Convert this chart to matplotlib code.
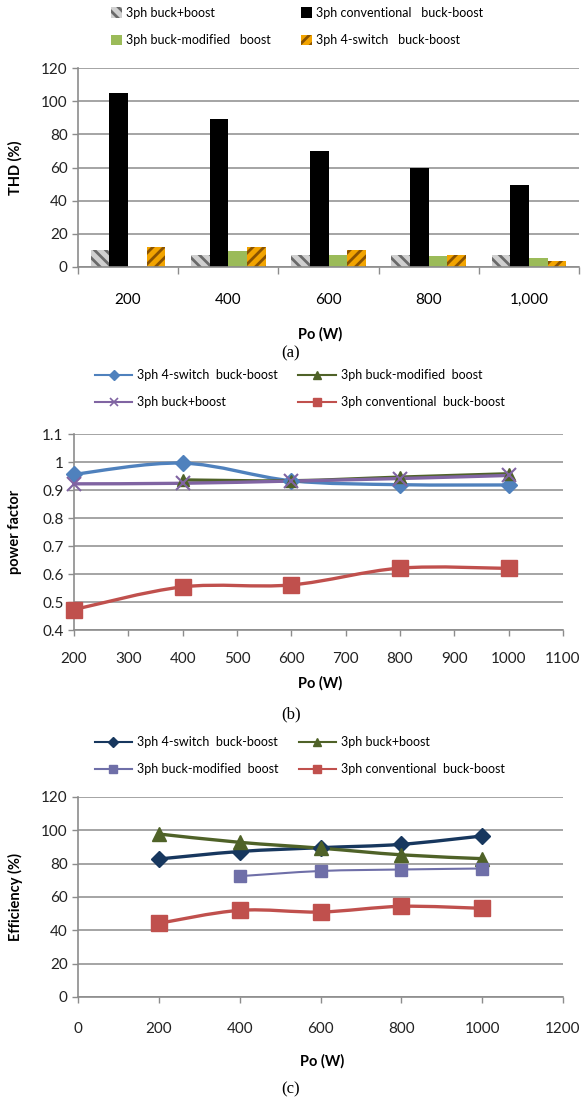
import matplotlib
matplotlib.use("Agg")
import matplotlib.pyplot as plt
import numpy as np
from matplotlib.path import Path
from matplotlib.patches import PathPatch
from matplotlib.lines import Line2D

plt.rcParams["font.family"] = ["Lato", "DejaVu Sans"]
plt.rcParams["hatch.linewidth"] = 2.0

# ---- (a) THD bar data ----
thd_cats = ["200", "400", "600", "800", "1,000"]
thd_buck_boost = [10, 7.5, 7.5, 7.5, 7.5]
thd_conventional = [105, 89.5, 70, 60, 49.5]
thd_modified = [0, 9.5, 7, 6.5, 5.5]
thd_4switch = [12, 12, 10, 7.5, 3.5]

# ---- (b) power factor data ----
pf_x = [200, 400, 600, 800, 1000]
pf_4switch = [0.956, 0.996, 0.933, 0.919, 0.918]
pf_modified_x = [400, 600, 800, 1000]
pf_modified = [0.936, 0.933, 0.946, 0.958]
pf_buck_boost = [0.922, 0.924, 0.932, 0.941, 0.952]
pf_conventional = [0.473, 0.554, 0.561, 0.621, 0.620]

# ---- (c) efficiency data ----
eff_x = [200, 400, 600, 800, 1000]
eff_4switch = [82.8, 87.3, 89.6, 91.6, 96.6]
eff_buck_boost = [97.8, 92.8, 89.3, 85.3, 83.0]
eff_modified_x = [400, 600, 800, 1000]
eff_modified = [72.5, 75.6, 76.5, 77.1]
eff_conventional = [44.2, 52.0, 51.0, 54.4, 53.2]

W, H = 582, 1101
fig = plt.figure(figsize=(W / 100, H / 100), dpi=100)

GRID = "#8c8c8c"
TICK_FS = 11
LEG_FS = 9
LAB_FS = 10.5
CAP_FS = 12


def axes_px(left, top, right, bottom):
    return fig.add_axes([left / W, 1 - bottom / H, (right - left) / W, (bottom - top) / H])


def style_axes(ax):
    for s in ["top", "right"]:
        ax.spines[s].set_visible(False)
    for s in ["left", "bottom"]:
        ax.spines[s].set_color(GRID)
        ax.spines[s].set_linewidth(1.2)
    ax.yaxis.grid(True, color=GRID, linewidth=1.1)
    ax.set_axisbelow(True)
    ax.tick_params(colors=GRID, labelcolor="#222222", labelsize=TICK_FS, length=4, width=1)


def smooth_line(ax, xs, ys, color, lw):
    # excel-like smoothed line: catmull-rom segments drawn as cubic beziers
    pts = np.column_stack([xs, ys]).astype(float)
    verts = [pts[0]]
    codes = [Path.MOVETO]
    n = len(pts)
    for i in range(n - 1):
        p0 = pts[max(i - 1, 0)]
        p1 = pts[i]
        p2 = pts[i + 1]
        p3 = pts[min(i + 2, n - 1)]
        c1 = p1 + (p2 - p0) / 6.0
        c2 = p2 - (p3 - p1) / 6.0
        verts += [c1, c2, p2]
        codes += [Path.CURVE4] * 3
    ax.add_patch(PathPatch(Path(verts, codes), fill=False, edgecolor=color,
                           linewidth=lw, capstyle="round", joinstyle="round", zorder=3))


# ================= (a) =================
axa = axes_px(78, 68, 579, 267)
style_axes(axa)
xa = np.arange(len(thd_cats))
bw = 0.186
series_a = [
    (thd_buck_boost, "3ph buck+boost", dict(facecolor="#d0d0d0", edgecolor="#6a6a6a", hatch="\\\\\\")),
    (thd_conventional, "3ph conventional   buck-boost", dict(facecolor="black", edgecolor="black")),
    (thd_modified, "3ph buck-modified   boost", dict(facecolor="#9bbb59", edgecolor="#9bbb59")),
    (thd_4switch, "3ph 4-switch   buck-boost", dict(facecolor="#f2a400", edgecolor="#8a5200", hatch="///")),
]
bars = []
for i, (vals, lab, st) in enumerate(series_a):
    b = axa.bar(xa + (i - 1.5) * bw, vals, bw, label=lab, linewidth=0, zorder=2, **st)
    bars.append(b)
axa.set_ylim(0, 120)
axa.set_yticks(range(0, 121, 20))
axa.set_xlim(-0.5, len(thd_cats) - 0.5)
axa.set_xticks(np.arange(-0.5, len(thd_cats), 1.0))
axa.set_xticklabels([])
axa.set_xticks(xa, minor=True)
axa.set_xticklabels(thd_cats, minor=True)
axa.tick_params(axis="x", which="minor", length=0, pad=19, labelsize=TICK_FS)
axa.tick_params(axis="x", which="major", length=5)
fig.legend([bars[0], bars[2], bars[1], bars[3]],
           [series_a[0][1], series_a[2][1], series_a[1][1], series_a[3][1]],
           ncol=2, loc="center", bbox_to_anchor=(0.51, 1 - 26.5 / H), frameon=False,
           fontsize=LEG_FS, handlelength=0.9, handleheight=0.9, handletextpad=0.3,
           columnspacing=2.4, labelspacing=1.25)
fig.text(15 / W, 1 - 168 / H, "THD (%)", rotation=90, ha="center", va="center",
         fontsize=LAB_FS, fontweight="bold")
fig.text(320 / W, 1 - 334 / H, "Po (W)", ha="center", va="center", fontsize=LAB_FS, fontweight="bold")
fig.text(291 / W, 1 - 353 / H, "(a)", ha="center", va="center", fontsize=CAP_FS,
         family="Liberation Serif")

# ================= (b) =================
axb = axes_px(74, 434, 563, 630)
style_axes(axb)
c_blue, c_olive, c_purple, c_red = "#4f81bd", "#4f6228", "#8064a2", "#c0504d"
smooth_line(axb, pf_x, pf_4switch, c_blue, 2.4)
smooth_line(axb, pf_modified_x, pf_modified, c_olive, 2.4)
smooth_line(axb, pf_x, pf_buck_boost, c_purple, 2.4)
smooth_line(axb, pf_x, pf_conventional, c_red, 2.4)
axb.plot(pf_x, pf_4switch, ls="none", marker="D", ms=8, color=c_blue, zorder=4, clip_on=False)
axb.plot(pf_modified_x, pf_modified, ls="none", marker="^", ms=9, color=c_olive, zorder=4, clip_on=False)
axb.plot(pf_x, pf_buck_boost, ls="none", marker="x", ms=10, mew=1.5, color=c_purple, zorder=4, clip_on=False)
axb.plot(pf_x, pf_conventional, ls="none", marker="s", ms=11, color=c_red, zorder=4, clip_on=False)
axb.set_xlim(200, 1100)
axb.set_xticks(range(200, 1101, 100))
axb.set_ylim(0.4, 1.1)
pf_ticks = [0.4, 0.5, 0.6, 0.7, 0.8, 0.9, 1.0, 1.1]
axb.set_yticks(pf_ticks)
axb.set_yticklabels(["0.4", "0.5", "0.6", "0.7", "0.8", "0.9", "1", "1.1"])
axb.tick_params(axis="x", pad=12)
hb = [Line2D([], [], color=c_blue, marker="D", ms=5, lw=1.5),
      Line2D([], [], color=c_purple, marker="x", ms=6, mew=1.2, lw=1.5),
      Line2D([], [], color=c_olive, marker="^", ms=6, lw=1.5),
      Line2D([], [], color=c_red, marker="s", ms=6, lw=1.5)]
fig.legend(hb, ["3ph 4-switch  buck-boost", "3ph buck+boost",
                "3ph buck-modified  boost", "3ph conventional  buck-boost"],
           ncol=2, loc="center", bbox_to_anchor=(0.515, 1 - 388.5 / H), frameon=False,
           fontsize=LEG_FS, handlelength=3.0, handletextpad=0.4,
           columnspacing=1.6, labelspacing=1.2)
fig.text(15 / W, 1 - 532 / H, "power factor", rotation=90, ha="center", va="center",
         fontsize=LAB_FS, fontweight="bold")
fig.text(320 / W, 1 - 683 / H, "Po (W)", ha="center", va="center", fontsize=LAB_FS, fontweight="bold")
fig.text(291 / W, 1 - 714 / H, "(b)", ha="center", va="center", fontsize=CAP_FS,
         family="Liberation Serif")

# ================= (c) =================
axc = axes_px(78, 797, 563, 997)
style_axes(axc)
c_navy, c_lav = "#17375e", "#6f6fa8"
smooth_line(axc, eff_x, eff_4switch, c_navy, 2.4)
smooth_line(axc, eff_x, eff_buck_boost, c_olive, 2.4)
smooth_line(axc, eff_modified_x, eff_modified, c_lav, 1.5)
smooth_line(axc, eff_x, eff_conventional, c_red, 2.4)
axc.plot(eff_x, eff_4switch, ls="none", marker="D", ms=8, color=c_navy, zorder=4)
axc.plot(eff_x, eff_buck_boost, ls="none", marker="^", ms=10, color=c_olive, zorder=4)
axc.plot(eff_modified_x, eff_modified, ls="none", marker="s", ms=8, color=c_lav, zorder=4)
axc.plot(eff_x, eff_conventional, ls="none", marker="s", ms=11, color=c_red, zorder=4)
axc.set_xlim(0, 1200)
axc.set_xticks(range(0, 1201, 200))
axc.set_ylim(0, 120)
axc.set_yticks(range(0, 121, 20))
axc.tick_params(axis="x", pad=14)
hc = [Line2D([], [], color=c_navy, marker="D", ms=5, lw=1.5),
      Line2D([], [], color=c_lav, marker="s", ms=6, lw=1.5),
      Line2D([], [], color=c_olive, marker="^", ms=6, lw=1.5),
      Line2D([], [], color=c_red, marker="s", ms=6, lw=1.5)]
fig.legend(hc, ["3ph 4-switch  buck-boost", "3ph buck-modified  boost",
                "3ph buck+boost", "3ph conventional  buck-boost"],
           ncol=2, loc="center", bbox_to_anchor=(0.515, 1 - 755.5 / H), frameon=False,
           fontsize=LEG_FS, handlelength=3.0, handletextpad=0.4,
           columnspacing=1.6, labelspacing=1.2)
fig.text(15 / W, 1 - 897 / H, "Efficiency (%)", rotation=90, ha="center", va="center",
         fontsize=LAB_FS, fontweight="bold")
fig.text(322 / W, 1 - 1061 / H, "Po (W)", ha="center", va="center", fontsize=LAB_FS, fontweight="bold")
fig.text(291 / W, 1 - 1089 / H, "(c)", ha="center", va="center", fontsize=CAP_FS,
         family="Liberation Serif")

fig.savefig("out.png", dpi=100)
